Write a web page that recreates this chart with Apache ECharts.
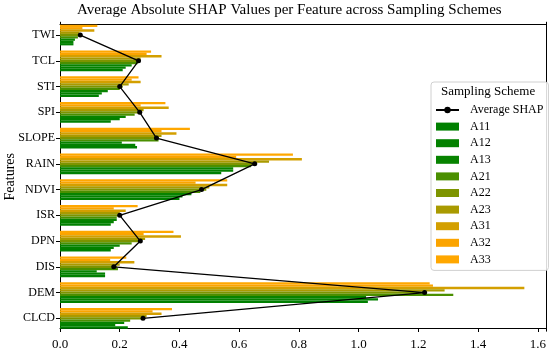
<!DOCTYPE html>
<html><head><meta charset="utf-8">
<script src="https://cdn.jsdelivr.net/npm/echarts@6/dist/echarts.min.js"></script>
<style>html,body{margin:0;padding:0;background:#fff}#c{width:550px;height:353px}</style>
</head><body><div id="c"></div>
<script>
const categories = ['CLCD','DEM','DIS','DPN','ISR','NDVI','RAIN','SLOPE','SPI','STI','TCL','TWI'];
const schemes = ['A11','A12','A13','A21','A22','A23','A31','A32','A33'];
const A11 = [0.227, 1.031, 0.151, 0.17, 0.17, 0.40, 0.54, 0.258, 0.17, 0.13, 0.21, 0.045];
const A12 = [0.185, 1.065, 0.151, 0.18, 0.18, 0.41, 0.58, 0.252, 0.20, 0.14, 0.22, 0.045];
const A13 = [0.215, 1.025, 0.123, 0.20, 0.19, 0.44, 0.58, 0.207, 0.22, 0.16, 0.24, 0.05];
const A21 = [0.235, 1.317, 0.194, 0.24, 0.19, 0.47, 0.64, 0.33, 0.25, 0.20, 0.26, 0.06];
const A22 = [0.28, 1.22, 0.19, 0.27, 0.20, 0.49, 0.66, 0.33, 0.27, 0.21, 0.265, 0.07];
const A23 = [0.29, 1.288, 0.20, 0.285, 0.20, 0.50, 0.70, 0.34, 0.28, 0.23, 0.27, 0.065];
const A31 = [0.34, 1.555, 0.249, 0.405, 0.22, 0.56, 0.81, 0.39, 0.364, 0.27, 0.34, 0.115];
const A32 = [0.31, 1.249, 0.168, 0.28, 0.18, 0.454, 0.59, 0.34, 0.27, 0.24, 0.29, 0.075];
const A33 = [0.375, 1.238, 0.222, 0.38, 0.26, 0.56, 0.78, 0.435, 0.353, 0.263, 0.305, 0.125];
const averageSHAP = [0.278, 1.221, 0.18, 0.269, 0.20, 0.474, 0.652, 0.323, 0.267, 0.20, 0.263, 0.068];
const xTicks = [0.0, 0.2, 0.4, 0.6, 0.8, 1.0, 1.2, 1.4, 1.6];
const schemeValues = {A11, A12, A13, A21, A22, A23, A31, A32, A33};
const colors = ['#008000','#038100','#078300','#4a8f00','#7d9400','#a99a00','#d39f00','#fba400','#ffa700'];

const FONT = 'Liberation Serif';
const chart = echarts.init(document.getElementById('c'), null, {renderer:'canvas'});
// ECharts places the first series of a horizontal group at the top, so add them A33 -> A11
const barSeries = schemes.map((s, i) => ({
  name: s, type: 'bar', data: schemeValues[s],
  barGap: '0%', barCategoryGap: '20%',
  itemStyle: {color: colors[i]}, z: 2
})).reverse();
const option = {
  animation: false,
  textStyle: {fontFamily: FONT},
  graphic: [
    {type:'text', left: 77, top: 3, style:{text:'Average Absolute SHAP Values per Feature across Sampling Schemes', font:'15px "Liberation Serif"', fill:'#000'}},
    {type:'text', left: 441, top: 85, z: 100, style:{text:'Sampling Scheme', font:'13px "Liberation Serif"', fill:'#000'}}
  ],
  grid: {left: 60, right: 4, top: 22.2, bottom: 21.8, containLabel: false, outerBoundsMode: 'none'},
  legend: {
    orient: 'vertical', left: 431, top: 82,
    padding: [22, 5, 5, 4],
    itemWidth: 23, itemHeight: 8, itemGap: 4.6,
    borderColor: '#d0d0d0', borderWidth: 1, borderRadius: 3,
    backgroundColor: 'rgba(255,255,255,0.85)',
    textStyle: {fontFamily: FONT, fontSize: 12, color: '#000', padding: [0, 0, 0, 6]},
    data: [{name:'Average SHAP'}].concat(schemes.map(s => ({name: s, icon: 'rect'})))
  },
  xAxis: [{
    type: 'value', min: 0, max: 1.6275, interval: 0.2, offset: -3.2,
    axisLine: {show: true, lineStyle: {color: '#000', width: 1}},
    axisTick: {show: true, length: 4, lineStyle: {color: '#000'}},
    axisLabel: {show: true, showMaxLabel: false, margin: 10, color: '#000', fontSize: 13, fontFamily: FONT,
      formatter: v => (xTicks.some(t => Math.abs(t - v) < 1e-6) ? v.toFixed(1) : '')},
    splitLine: {show: false}
  }, {
    type: 'value', position: 'top', min: 0, max: 1.6275, offset: -1.8,
    axisLine: {show: true, onZero: false, lineStyle: {color: '#000', width: 1}},
    axisTick: {show: false}, axisLabel: {show: false}, splitLine: {show: false}
  }],
  yAxis: [{
    type: 'category', data: categories,
    name: 'Features', nameLocation: 'middle', nameGap: 43, nameMoveOverlap: false,
    nameTextStyle: {fontFamily: FONT, fontSize: 14, color: '#000'},
    axisLine: {show: true, lineStyle: {color: '#000', width: 1}},
    axisTick: {show: true, alignWithLabel: true, length: 4, lineStyle: {color: '#000'}},
    axisLabel: {color: '#000', fontSize: 12, fontFamily: FONT, margin: 5}
  }, {
    type: 'category', data: categories, position: 'right',
    axisLine: {show: true, onZero: false, lineStyle: {color: '#000', width: 1}},
    axisTick: {show: false}, axisLabel: {show: false}
  }],
  series: barSeries.concat([{
    name: 'Average SHAP', type: 'line', data: averageSHAP,
    symbol: 'circle', symbolSize: 5,
    lineStyle: {color: '#000', width: 1.3}, itemStyle: {color: '#000'}, z: 10
  }])
};
chart.setOption(option);
</script></body></html>
